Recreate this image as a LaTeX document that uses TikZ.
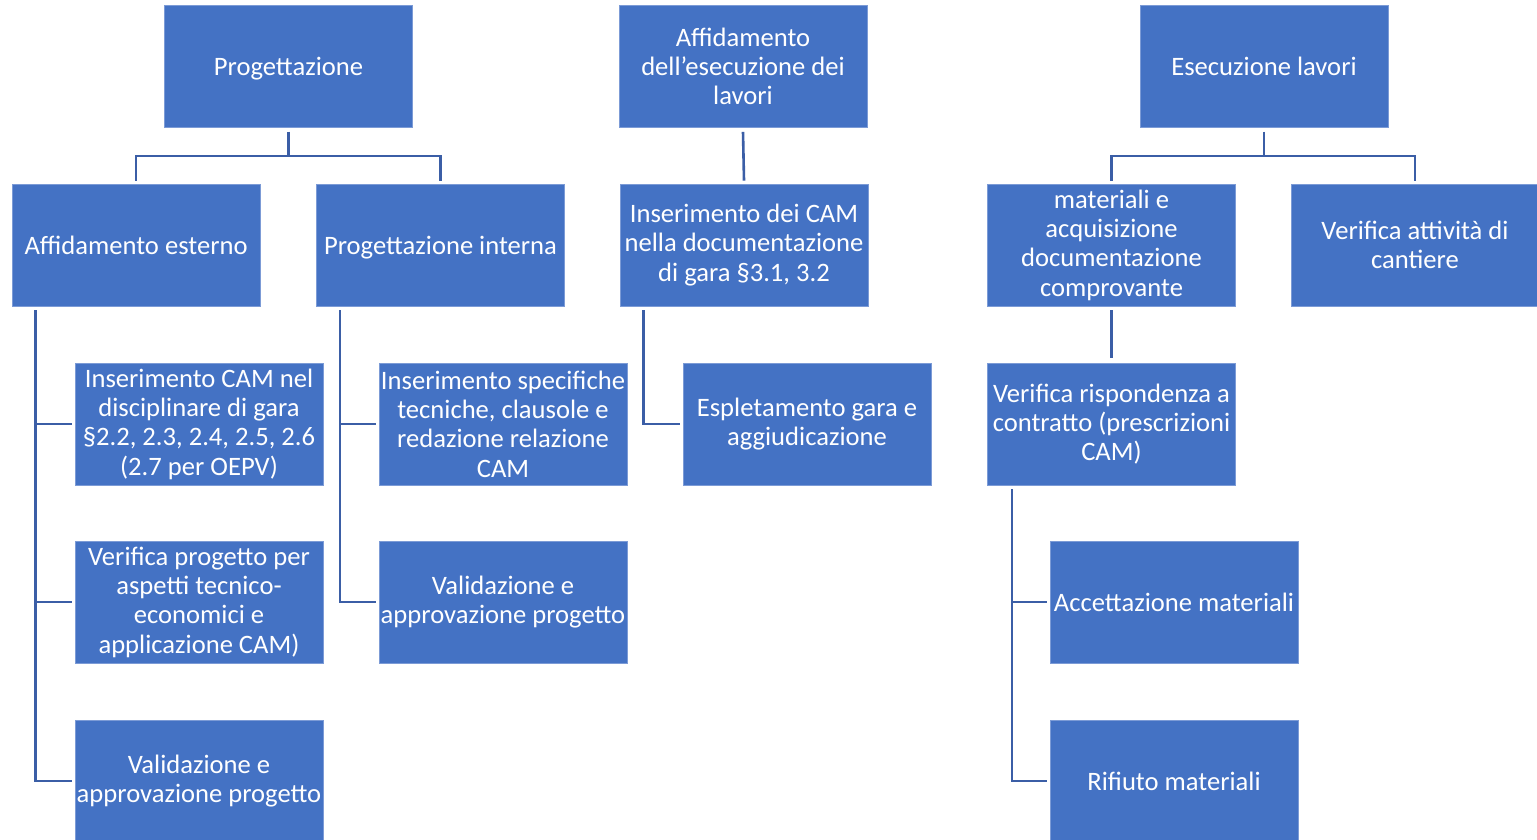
\documentclass[tikz,border=0pt]{standalone}
\usepackage{fontspec}
\setmainfont{Carlito}
\definecolor{boxblue}{HTML}{4472C4}
\definecolor{boxedge}{HTML}{7C9BD6}
\definecolor{linkblue}{HTML}{3B5EA6}
\begin{document}
\begin{tikzpicture}[x=1pt,y=-1pt,
  box/.style={rectangle, fill=boxblue, draw=boxedge, line width=0.8pt,
    minimum width=248pt, minimum height=122pt, inner sep=0pt,
    align=center, text=white, font=\fontsize{26.6}{29.3}\selectfont},
  oneline/.style={text height=20pt, text depth=2pt},
  conn/.style={draw=linkblue, line width=2.6pt}]
\clip (0,0) rectangle (1537,840);
\fill[white] (0,0) rectangle (1537,840);

% top level
\node[box,oneline] (prog) at (288.5,66.5) {Progettazione};
\node[box] (aff) at (743,66.5) {Affidamento\\dell’esecuzione dei\\lavori};
\node[box,oneline] (ese) at (1264,66.5) {Esecuzione lavori};

% second level
\node[box,oneline] (ext) at (136,245) {Affidamento esterno};
\node[box,oneline] (int) at (440.5,245) {Progettazione interna};
\node[box] (ins) at (744,245) {Inserimento dei CAM\\nella documentazione\\di gara §3.1, 3.2};
\node[box] (mat) at (1111.5,245) {materiali e\\acquisizione\\documentazione\\comprovante};
\node[box] (can) at (1415,245) {Verifica attività di\\cantiere};

% third level
\node[box] (insL) at (199,424) {Inserimento CAM nel\\disciplinare di gara\\§2.2, 2.3, 2.4, 2.5, 2.6\\(2.7 per OEPV)};
\node[box] (verL) at (199,602) {Verifica progetto per\\aspetti tecnico-\\economici e\\applicazione CAM)};
\node[box] (valL) at (199,781) {Validazione e\\approvazione progetto};
\node[box] (spec) at (503,424) {Inserimento specifiche\\tecniche, clausole e\\redazione relazione\\CAM};
\node[box] (valI) at (503,602) {Validazione e\\approvazione progetto};
\node[box] (esp) at (807,424) {Espletamento gara e\\aggiudicazione};
\node[box] (risp) at (1111.5,424) {Verifica rispondenza a\\contratto (prescrizioni\\CAM)};
\node[box,oneline] (acc) at (1174,602) {Accettazione materiali};
\node[box,oneline] (rif) at (1174,781) {Rifiuto materiali};

% connectors
\draw[conn] ([yshift=-4pt]prog.south) -- ++(0,24) -| ([yshift=3pt]ext.north);
\draw[conn] ([yshift=-4pt]prog.south) -- ++(0,24) -| ([yshift=3pt]int.north);
\draw[conn] ([yshift=-4pt]aff.south) -- ([yshift=3pt]ins.north);
\draw[conn] ([yshift=-4pt]ese.south) -- ++(0,24) -| ([yshift=3pt]mat.north);
\draw[conn] ([yshift=-4pt]ese.south) -- ++(0,24) -| ([yshift=3pt]can.north);

\draw[conn] ([xshift=24pt,yshift=-4pt]ext.south west) |- ([xshift=-3pt]valL.west);
\draw[conn] ([xshift=-3pt]insL.west) -- ++(-37,0);
\draw[conn] ([xshift=-3pt]verL.west) -- ++(-37,0);

\draw[conn] ([xshift=24pt,yshift=-4pt]int.south west) |- ([xshift=-3pt]valI.west);
\draw[conn] ([xshift=-3pt]spec.west) -- ++(-37,0);

\draw[conn] ([xshift=24pt,yshift=-4pt]ins.south west) |- ([xshift=-3pt]esp.west);

\draw[conn] ([yshift=-4pt]mat.south) -- ([yshift=5pt]risp.south |- risp.north);

\draw[conn] ([xshift=25pt,yshift=-4pt]risp.south west) |- ([xshift=-3pt]rif.west);
\draw[conn] ([xshift=-3pt]acc.west) -- ++(-36,0);
\end{tikzpicture}
\end{document}
